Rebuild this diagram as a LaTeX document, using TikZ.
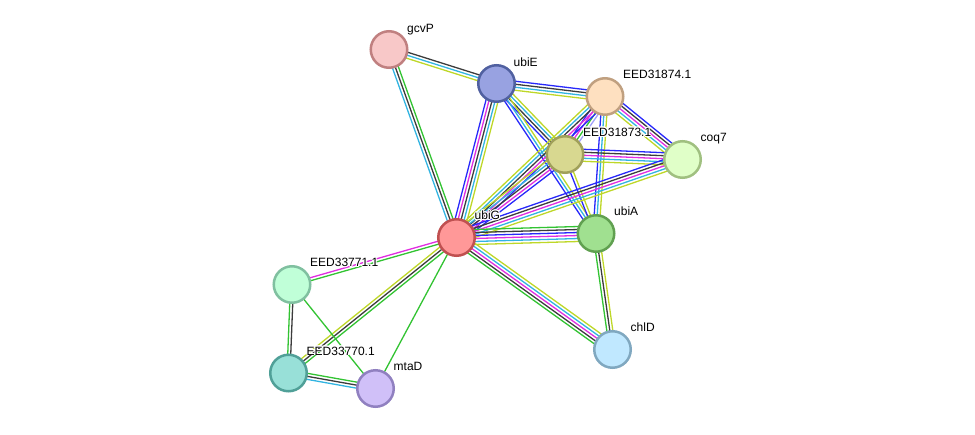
\documentclass[tikz,border=0pt]{standalone}
\usepackage{fontspec}
\setmainfont{Liberation Sans}
\usepackage{contour}
\contourlength{0.9pt}
\contournumber{16}
\usetikzlibrary{calc}
\pgfdeclarelayer{background}
\pgfsetlayers{background,main}
\definecolor{eblue}{RGB}{40,40,250}
\definecolor{emag}{RGB}{225,45,225}
\definecolor{egrey}{RGB}{60,60,60}
\definecolor{ecyan}{RGB}{50,180,225}
\definecolor{eyel}{RGB}{190,215,40}
\definecolor{egreen}{RGB}{50,195,50}
\definecolor{elav}{RGB}{160,160,250}
\definecolor{fgcvP}{RGB}{248,200,200}\definecolor{dgcvP}{RGB}{192,128,128}
\definecolor{fubiE}{RGB}{152,162,225}\definecolor{dubiE}{RGB}{80,96,160}
\definecolor{fE74}{RGB}{254,224,192}\definecolor{dE74}{RGB}{192,160,128}
\definecolor{fE73}{RGB}{216,216,144}\definecolor{dE73}{RGB}{160,160,90}
\definecolor{fcoq7}{RGB}{224,255,200}\definecolor{dcoq7}{RGB}{160,192,128}
\definecolor{fubiG}{RGB}{255,152,152}\definecolor{dubiG}{RGB}{192,80,80}
\definecolor{fubiA}{RGB}{160,224,144}\definecolor{dubiA}{RGB}{96,160,80}
\definecolor{fE71}{RGB}{192,255,216}\definecolor{dE71}{RGB}{128,192,160}
\definecolor{fE70}{RGB}{152,224,216}\definecolor{dE70}{RGB}{80,160,152}
\definecolor{fmtaD}{RGB}{208,192,248}\definecolor{dmtaD}{RGB}{144,128,192}
\definecolor{fchlD}{RGB}{192,232,255}\definecolor{dchlD}{RGB}{128,168,192}
\tikzset{
  prot/.style={circle, minimum size=36.5pt, inner sep=0pt, line width=2.5pt, fill=f#1, draw=d#1},
  plabel/.style={anchor=base west, font=\fontsize{12}{14}\selectfont, inner sep=0pt},
  eline/.style={line width=1.3pt},
}
\newcommand\sedge[3]{%
  \foreach \c [count=\i] in {#3} {\xdef\ncount{\i}}%
  \foreach \c [count=\i] in {#3} {%
    \pgfmathsetmacro\off{(\i-(\ncount+1)/2)*3}%
    \draw[eline,\c] ($(#1)!\off pt!90:(#2)$) -- ($(#2)!\off pt!-90:(#1)$);
  }%
}
\newcommand\lbl[1]{\contour{white}{#1}}
\begin{document}
\begin{tikzpicture}[x=1pt,y=-1pt]
\useasboundingbox (0,0) rectangle (975,434);
% nodes
\node[prot=gcvP] (gcvP) at (389,49.5) {};
\node[prot=ubiE] (ubiE) at (496.5,83.5) {};
\node[prot=E74] (E74) at (605,96.5) {};
\node[prot=E73] (E73) at (565,154.5) {};
\node[prot=coq7] (coq7) at (682.5,159.5) {};
\node[prot=ubiG] (ubiG) at (456.5,237.5) {};
\node[prot=ubiA] (ubiA) at (596,233.5) {};
\node[prot=E71] (E71) at (292,284.5) {};
\node[prot=E70] (E70) at (288.5,373) {};
\node[prot=mtaD] (mtaD) at (375.5,388.5) {};
\node[prot=chlD] (chlD) at (612.5,349.5) {};
% labels
\node[plabel] (lgcvP) at ($(gcvP)+(18,-17)$) {\lbl{gcvP}};
\node[plabel] (lubiE) at ($(ubiE)+(17,-17.5)$) {\lbl{ubiE}};
\node[plabel] (lE74) at ($(E74)+(18,-18)$) {\lbl{EED31874.1}};
\node[plabel] (lE73) at ($(E73)+(18,-18)$) {\lbl{EED31873.1}};
\node[plabel] (lcoq7) at ($(coq7)+(18,-18)$) {\lbl{coq7}};
\node[plabel] (lubiG) at ($(ubiG)+(18,-18)$) {\lbl{ubiG}};
\node[plabel] (lubiA) at ($(ubiA)+(18,-18)$) {\lbl{ubiA}};
\node[plabel] (lE71) at ($(E71)+(18,-18)$) {\lbl{EED33771.1}};
\node[plabel] (lE70) at ($(E70)+(18,-18)$) {\lbl{EED33770.1}};
\node[plabel] (lmtaD) at ($(mtaD)+(18,-18)$) {\lbl{mtaD}};
\node[plabel] (lchlD) at ($(chlD)+(18,-18)$) {\lbl{chlD}};
% edges
\begin{pgfonlayer}{background}
\sedge{gcvP}{ubiE}{eyel,ecyan,egrey}
\sedge{gcvP}{ubiG}{ecyan,egrey,egreen}
\sedge{ubiE}{E74}{eyel,ecyan,egrey,eblue}
\sedge{ubiE}{ubiG}{eblue,emag,egrey,ecyan,eyel}
\sedge{ubiE}{E73}{eblue,egrey,ecyan,eyel}
\sedge{ubiE}{ubiA}{eblue,ecyan,eyel}
\sedge{E74}{E73}{eblue,emag,egreen,elav}
\sedge{E74}{ubiG}{eyel,ecyan,egrey,emag,eblue}
\sedge{E74}{ubiA}{eblue,ecyan,eyel}
\sedge{E74}{coq7}{eyel,ecyan,emag,egrey,eblue}
\sedge{E73}{coq7}{eyel,ecyan,emag,egrey,eblue}
\sedge{E73}{ubiG}{eyel,ecyan,egrey,emag,eblue}
\sedge{E73}{ubiA}{eblue,eyel}
\sedge{coq7}{ubiG}{eblue,egrey,emag,ecyan,eyel}
\sedge{ubiG}{ubiA}{eyel,ecyan,emag,eblue,egrey,egreen}
\sedge{ubiG}{chlD}{egreen,egrey,emag,ecyan,eyel}
\sedge{ubiA}{chlD}{egreen,egrey,eyel}
\sedge{ubiG}{E71}{emag,egreen}
\sedge{ubiG}{E70}{eyel,egrey,egreen}
\sedge{ubiG}{mtaD}{egreen}
\sedge{E71}{E70}{egreen,egrey}
\sedge{E71}{mtaD}{egreen}
\sedge{E70}{mtaD}{ecyan,egrey,egreen}
\end{pgfonlayer}
\end{tikzpicture}
\end{document}
